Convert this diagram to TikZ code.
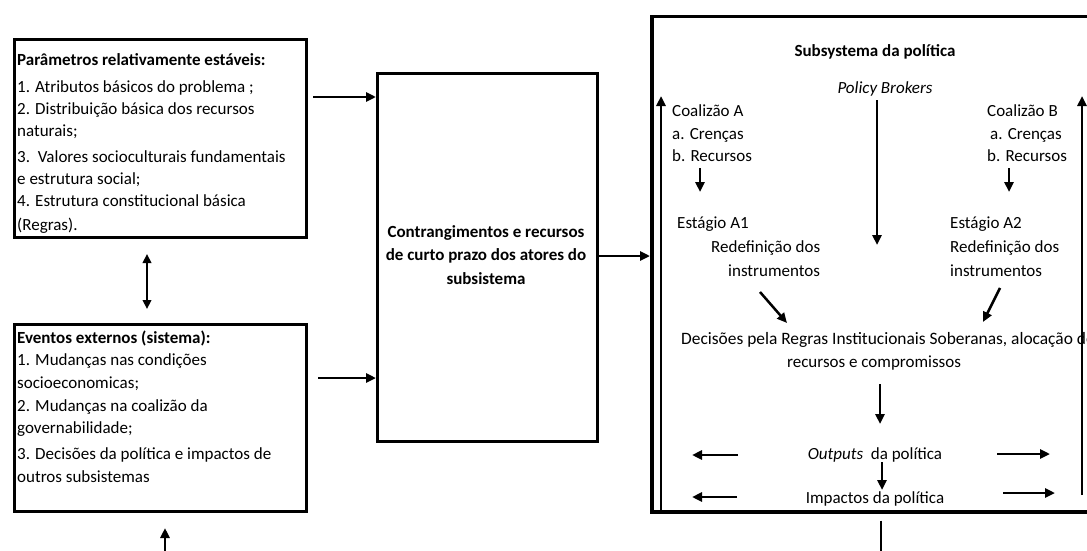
\documentclass[tikz,border=0pt]{standalone}
\usepackage{fontspec}
\setmainfont{Carlito}
\usetikzlibrary{arrows.meta,calc}
\begin{document}
\begin{tikzpicture}[x=1pt,y=-1pt,
  box/.style={draw, line width=3pt, inner sep=0, anchor=north west},
  txt/.style={inner sep=0, anchor=mid west, yshift=-4pt, font=\fontsize{17}{22}\selectfont},
  ctxt/.style={inner sep=0, anchor=mid, yshift=-4pt, font=\fontsize{17}{22}\selectfont},
  arr/.style={line width=2.5pt, -{Triangle[length=10pt,width=9pt]}},
  darr/.style={line width=2.2pt, {Triangle[length=9pt,width=8.5pt]}-{Triangle[length=9pt,width=8.5pt]}},
  plain/.style={line width=2.2pt}]
\useasboundingbox (0,0) rectangle (1087,551);
\clip (0,0) rectangle (1087,551);
% boxes
\node[box, minimum width=292pt, minimum height=198pt] (p) at (13,38) {};
\node[box, minimum width=292pt, minimum height=187pt] (e) at (13,323) {};
\node[box, minimum width=220pt, minimum height=368pt] (c) at (376,72) {};
\node[box, line width=3.5pt, minimum width=450pt, minimum height=495pt] (s) at (650,15) {};
% box 1 text
\node[txt, font=\fontsize{17}{22}\selectfont\bfseries] (p0) at (17,59) {Parâmetros relativamente estáveis:};
\node[txt] (p1) at (17,86) {1. Atributos básicos do problema ;};
\node[txt] (p2) at (17,108) {2. Distribuição básica dos recursos};
\node[txt] (p3) at (17,130) {naturais;};
\node[txt] (p4) at (17,156) {3.\ \ Valores socioculturais fundamentais};
\node[txt] (p5) at (17,178) {e estrutura social;};
\node[txt] (p6) at (17,200) {4. Estrutura constitucional básica};
\node[txt] (p7) at (17,224) {(Regras).};
% box 2 text
\node[txt, font=\fontsize{17}{22}\selectfont\bfseries] (e0) at (17,337) {Eventos externos (sistema):};
\node[txt] (e1) at (17,359) {1. Mudanças nas condições};
\node[txt] (e2) at (17,382) {socioeconomicas;};
\node[txt] (e3) at (17,405) {2. Mudanças na coalizão da};
\node[txt] (e4) at (17,427) {governabilidade;};
\node[txt] (e5) at (17,453) {3. Decisões da política e impactos de};
\node[txt] (e6) at (17,476) {outros subsistemas};
% central text
\node[inner sep=0, anchor=center, align=center, font=\fontsize{17}{23.5}\selectfont\bfseries] (ct) at (486,255) {Contrangimentos e recursos\\de curto prazo dos atores do\\subsistema};
% left connectors
\draw[arr] ($(p.east |- 0,97)+(5,0)$) -- (c.west |- 0,97);
\draw[arr] ($(e.east |- 0,378)+(10,0)$) -- (c.west |- 0,378);
\draw[arr] (c.east |- 0,256) -- (s.west |- 0,256);
\draw[darr] ($(p.south -| 147,0)+(0,15)$) -- ($(e.north -| 147,0)+(0,-14)$);
\coordinate (bl) at (165,560);
\draw[arr] (bl) -- ($(e.south -| 165,0)+(0,15)$);
% subsystem side lines
\coordinate (lt) at (661,96);
\coordinate (rb) at (1082,495);
\coordinate (rt) at (1082,96);
\draw[arr] (s.south -| lt) -- (lt);
\draw[arr] (rb) -- (rt);
% subsystem text
\node[ctxt, font=\fontsize{17}{22}\selectfont\bfseries] (st) at (875,50) {Subsystema da política};
\node[ctxt, font=\fontsize{17}{22}\selectfont\itshape] (pb) at (885,87) {Policy Brokers};
\node[txt] (ca1) at (672,110) {Coalizão A};
\node[txt] (ca2) at (672,133) {a. Crenças};
\node[txt] (ca3) at (672,155) {b. Recursos};
\node[txt] (ea1) at (677,222) {Estágio A1};
\node[txt] (ea2) at (711,246) {Redefinição dos};
\node[txt] (ea3) at (728,270) {instrumentos};
\node[txt] (cb1) at (987,110) {Coalizão B};
\node[txt] (cb2) at (990,133) {a. Crenças};
\node[txt] (cb3) at (987,155) {b. Recursos};
\node[txt] (eb1) at (950,222) {Estágio A2};
\node[txt] (eb2) at (950,246) {Redefinição dos};
\node[txt] (eb3) at (950,270) {instrumentos};
\node[txt, font=\fontsize{17.4}{22}\selectfont] (d1) at (681,338) {Decisões pela Regras Institucionais Soberanas, alocação de};
\node[ctxt] (d2) at (874,361) {recursos e compromissos};
\node[ctxt] (out) at (875,453) {\textit{Outputs}\ \ da política};
\node[ctxt] (imp) at (875,497) {Impactos da política};
% subsystem connectors
\draw[arr] (877,100) -- (877,245);
\draw[arr] (700,168) -- (700,192);
\draw[arr] (1009,168) -- (1009,192);
\draw[arr] (760,292) -- (787,323);
\draw[arr] (1000,288) -- (983,322);
\draw[arr] (880,384) -- (880,424);
\draw[arr] (738,455) -- (692,455);
\draw[arr] (997,454) -- (1050,454);
\draw[arr] (882,462) -- (882,490);
\draw[arr] (737,497) -- (692,497);
\draw[arr] (1003,493) -- (1055,493);
\draw[plain] ($(s.south -| 881,0)+(0,7)$) -- (881,560);
\end{tikzpicture}
\end{document}
